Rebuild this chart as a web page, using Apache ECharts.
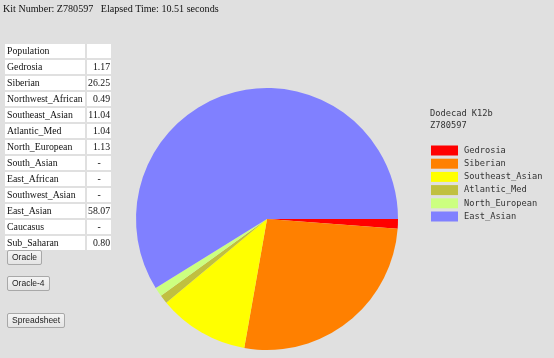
<!DOCTYPE html>
<html>
<head>
<meta charset="utf-8">
<script src="https://cdn.jsdelivr.net/npm/echarts@6/dist/echarts.min.js"></script>
<style>
  html, body { margin:0; padding:0; background:#e0e0e0; width:554px; height:358px; overflow:hidden; }
  #chart { position:absolute; left:0; top:0; width:554px; height:358px; }
  #hdr { position:absolute; left:3px; top:3px; font-family:"Liberation Serif","DejaVu Serif",serif; font-size:10.1px; color:#111; white-space:pre; z-index:2; }
  #tbl { position:absolute; left:3px; top:42px; border-collapse:separate; border-spacing:2px; font-family:"Liberation Serif",serif; font-size:9.8px; color:#111; z-index:2; }
  #tbl td { background:#fff; height:14px; padding:0 2px; line-height:14px; }
  #tbl td.n { width:22px; text-align:right; padding:0 1px 0 1px; }
  #tbl td.p { width:76px; }
  .btn { position:absolute; left:7px; height:15px; box-sizing:border-box; border:1px solid #a8a8a8; border-radius:2px; background:linear-gradient(#f4f4f4,#e4e4e4); font-family:"Liberation Sans",Arial,sans-serif; font-size:8.5px; color:#222; line-height:13px; padding:0 4px; z-index:2; }
</style>
</head>
<body>
<div id="chart"></div>
<div id="hdr"></div>
<table id="tbl"></table>
<div id="buttons"></div>
<script>
const kitNumber = "Z780597";
const elapsed = "10.51";
const tablePopulations = ["Gedrosia","Siberian","Northwest_African","Southeast_Asian","Atlantic_Med","North_European","South_Asian","East_African","Southwest_Asian","East_Asian","Caucasus","Sub_Saharan"];
const tableValues = ["1.17","26.25","0.49","11.04","1.04","1.13","-","-","-","58.07","-","0.80"];
const pieCategories = ["Gedrosia","Siberian","Southeast_Asian","Atlantic_Med","North_European","East_Asian"];
const pieValues = [1.17, 26.25, 11.04, 1.04, 1.13, 58.07];
const pieColors = ["#ff0000","#ff8000","#ffff00","#c0c040","#ccff80","#8080ff"];
const buttonLabels = ["Oracle","Oracle-4","Spreadsheet"];
const buttonTops = [250, 276, 313];

document.getElementById('hdr').textContent = "Kit Number: " + kitNumber + "   Elapsed Time: " + elapsed + " seconds";
const tbl = document.getElementById('tbl');
let html = '<tr><td class="p">Population</td><td class="n"></td></tr>';
tablePopulations.forEach((p, i) => {
  html += '<tr><td class="p">' + p + '</td><td class="n"' + (tableValues[i] === '-' ? ' style="text-align:center"' : '') + '>' + tableValues[i] + '</td></tr>';
});
tbl.innerHTML = html;
const bd = document.getElementById('buttons');
buttonLabels.forEach((b, i) => {
  const d = document.createElement('div');
  d.className = 'btn';
  d.style.top = buttonTops[i] + 'px';
  d.textContent = b;
  bd.appendChild(d);
});

const chart = echarts.init(document.getElementById('chart'), null, {renderer:'canvas'});
const mono = '"DejaVu Sans Mono","Liberation Mono",monospace';
chart.setOption({
  backgroundColor: 'transparent',
  animation: false,
  title: {
    text: 'Dodecad K12b\n' + kitNumber,
    left: 430, top: 107,
    padding: 0,
    textStyle: { fontFamily: mono, fontSize: 8.7, fontWeight: 'normal', color: '#333', lineHeight: 12.5 }
  },
  legend: {
    orient: 'vertical',
    left: 431, top: 145.5,
    padding: 0,
    itemWidth: 27, itemHeight: 10, itemGap: 3.2,
    icon: 'rect',
    selectedMode: false,
    data: pieCategories,
    textStyle: { fontFamily: mono, fontSize: 8.7, color: '#333', lineHeight: 10, padding: [0,0,0,1] }
  },
  series: [{
    type: 'pie',
    center: [267, 219],
    radius: 131,
    startAngle: 0,
    clockwise: true,
    label: { show: false },
    labelLine: { show: false },
    emphasis: { disabled: true },
    itemStyle: { borderWidth: 0 },
    data: pieCategories.map((c, i) => ({ name: c, value: pieValues[i], itemStyle: { color: pieColors[i] } }))
  }]
});
</script>
</body>
</html>
